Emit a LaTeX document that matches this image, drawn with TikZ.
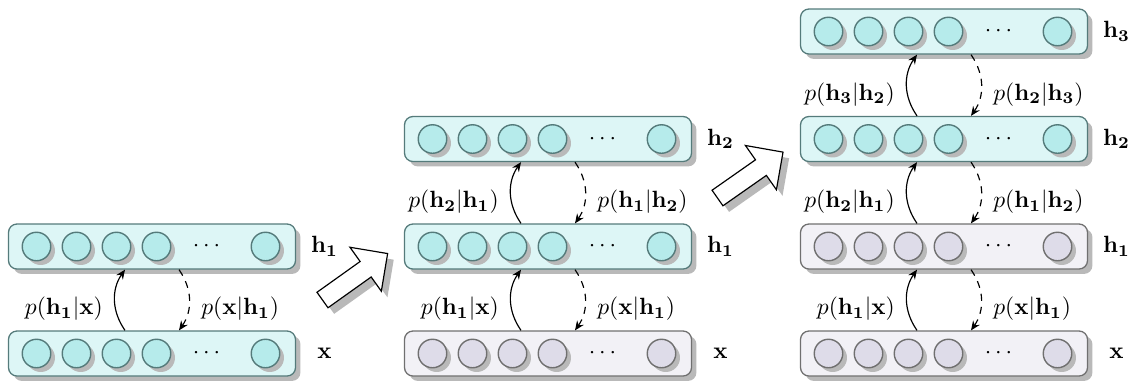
\documentclass[tikz,border=0pt]{standalone}
\usetikzlibrary{shadows,calc,arrows.meta}

\definecolor{hidfill}{HTML}{DDF6F6}
\definecolor{hidunit}{HTML}{B6EBEB}
\definecolor{hidline}{HTML}{557B7B}
\definecolor{visfill}{HTML}{F2F1F6}
\definecolor{visunit}{HTML}{DEDCE9}
\definecolor{visline}{HTML}{707070}
\definecolor{shadowgrey}{HTML}{B9B9B9}

\newlength\pxu
\setlength\pxu{0.4255pt}

\tikzset{
  softshadow/.style={drop shadow={shadow xshift=#1, shadow yshift=-#1, fill=shadowgrey, opacity=1}},
  layerbar/.style={rounded corners=3.6pt, minimum width=287*\pxu, minimum height=45*\pxu,
                   inner sep=0pt, line width=0.55pt, softshadow=2.1pt},
  hidbar/.style={layerbar, draw=hidline, fill=hidfill},
  visbar/.style={layerbar, draw=visline, fill=visfill},
  unitnode/.style={circle, minimum size=28.5*\pxu, inner sep=0pt, line width=0.6pt, softshadow=1.8pt},
  hidcirc/.style={unitnode, draw=hidline, fill=hidunit},
  viscirc/.style={unitnode, draw=visline, fill=visunit},
  uparrow/.style={line width=0.5pt, -{Stealth[length=4pt,width=3.4pt]}},
  downarrow/.style={uparrow, dash pattern=on 3pt off 2.6pt},
  blockarrow/.style={fill=white, draw=black, line width=0.5pt, line join=miter, softshadow=2.6pt},
}

% one layer of units: name, left x, centre y, colour scheme (hid/vis), label
\newcommand{\layerrow}[5]{%
  \node[#4bar] (#1) at (#2+143.5,#3) {};
  \foreach \i/\dx in {1/28,2/68,3/108,4/148,5/257}
    \node[#4circ] (#1-\i) at (#2+\dx,#3) {};
  \node (#1-dots) at (#2+198,#3) {$\cdots$};
  \node (#1-lab) at (#2+316,#3) {$#5$};
}

% recognition (up) and generation (down) connections between two layers
\newcommand{\linkrows}[5]{%
  \draw[uparrow] ($(#1.north)+(-27,0)$) to[bend left=35] ($(#2.south)+(-27,0)$);
  \draw[downarrow] ($(#2.south)+(27,0)$) to[bend left=35] ($(#1.north)+(27,0)$);
  \node[anchor=east] (#5-up) at ($(#1.north)!0.5!(#2.south)+(-41,9)$) {$#3$};
  \node[anchor=west] (#5-down) at ($(#1.north)!0.5!(#2.south)+(41,9)$) {$#4$};
}

% hollow block arrow pointing along local +x
\newcommand{\stagearrow}[3]{%
  \begin{scope}[shift={(#1,#2)}, rotate=#3]
    \path[blockarrow] (0,-9.5) -- (53,-9.5) -- (53,-27) -- (80,0) -- (53,27) -- (53,9.5) -- (0,9.5) -- cycle;
  \end{scope}
}

\begin{document}
\begin{tikzpicture}[x=0.4255pt, y=-0.4255pt]
  \useasboundingbox (0,0) rectangle (1131,382);

  % first stage: one RBM
  \layerrow{ax}{8.5}{353.5}{hid}{\mathbf{x}}
  \layerrow{ah}{8.5}{246.5}{hid}{\mathbf{h_1}}
  \linkrows{ax}{ah}{p(\mathbf{h_1}|\mathbf{x})}{p(\mathbf{x}|\mathbf{h_1})}{a1}

  \stagearrow{322.5}{300}{35.5}

  % second stage: two layers stacked
  \layerrow{bx}{404.5}{353.5}{vis}{\mathbf{x}}
  \layerrow{bh}{404.5}{246.5}{hid}{\mathbf{h_1}}
  \layerrow{bk}{404.5}{139}{hid}{\mathbf{h_2}}
  \linkrows{bx}{bh}{p(\mathbf{h_1}|\mathbf{x})}{p(\mathbf{x}|\mathbf{h_1})}{b1}
  \linkrows{bh}{bk}{p(\mathbf{h_2}|\mathbf{h_1})}{p(\mathbf{h_1}|\mathbf{h_2})}{b2}

  \stagearrow{717.5}{198}{35}

  % third stage: three layers stacked
  \layerrow{cx}{800.5}{353.5}{vis}{\mathbf{x}}
  \layerrow{ch}{800.5}{246.5}{vis}{\mathbf{h_1}}
  \layerrow{ck}{800.5}{139}{hid}{\mathbf{h_2}}
  \layerrow{cm}{800.5}{31.5}{hid}{\mathbf{h_3}}
  \linkrows{cx}{ch}{p(\mathbf{h_1}|\mathbf{x})}{p(\mathbf{x}|\mathbf{h_1})}{c1}
  \linkrows{ch}{ck}{p(\mathbf{h_2}|\mathbf{h_1})}{p(\mathbf{h_1}|\mathbf{h_2})}{c2}
  \linkrows{ck}{cm}{p(\mathbf{h_3}|\mathbf{h_2})}{p(\mathbf{h_2}|\mathbf{h_3})}{c3}
\end{tikzpicture}
\end{document}
